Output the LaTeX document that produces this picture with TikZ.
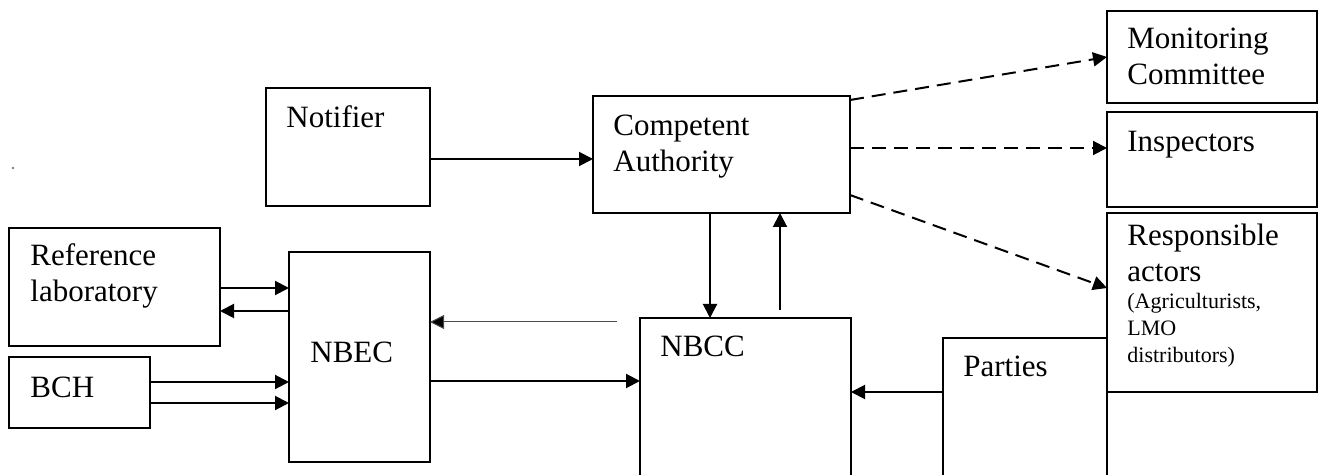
\documentclass[tikz,border=0pt]{standalone}
\usepackage{fontspec}
\setmainfont{Liberation Serif}
\usetikzlibrary{arrows.meta,fit,calc}

\begin{document}
\begin{tikzpicture}[x=0.5pt,y=-0.5pt,
  box/.style={draw, line width=1pt, inner sep=0pt, outer sep=0pt},
  lbl/.style={anchor=base west, inner sep=0pt, align=left,
    font=\fontsize{15.5}{18}\selectfont},
  smalllbl/.style={anchor=base west, inner sep=0pt, align=left,
    font=\fontsize{11}{13.5}\selectfont},
  flow/.style={line width=1pt, -{Triangle[length=7pt,width=7pt]}},
  link/.style={flow, dash pattern=on 7pt off 4pt},
  faint/.style={line width=0.5pt, draw=black!70, -{Triangle[length=7pt,width=7pt,fill=black]}}
]
\useasboundingbox (0,0) rectangle (1321,475);
\clip (0,0) rectangle (1321,475);

% boxes
\node[box, fit={(266,88) (430,206)}]   (notifier) {};
\node[box, fit={(593,96) (850,213)}]   (ca) {};
\node[box, fit={(1107,11) (1317,103)}] (monitor) {};
\node[box, fit={(1107,112) (1317,207)}](insp) {};
\node[box, fit={(1107,213) (1317,392)}](resp) {};
\node[box, fit={(9,228) (220,346)}]    (reflab) {};
\node[box, fit={(9,357) (150,428)}]    (bch) {};
\node[box, fit={(289,252) (430,462)}]  (nbec) {};
\node[box, fit={(640,318) (851,500)}]  (nbcc) {};
\node[box, fit={(943,338) (1107,500)}] (parties) {};

% stray mark on the left
\node[circle, fill=gray, inner sep=0pt, minimum size=1.3pt] (mark) at (13,168) {};

% labels (multi-line labels sit on the baseline of their last line)
\node[lbl] (notifier-t) at (286,128) {Notifier};
\node[lbl] (ca-t) at (613,172) {Competent\\Authority};
\node[lbl] (monitor-t) at (1127,85) {Monitoring\\Committee};
\node[lbl] (insp-t) at (1127,152) {Inspectors};
\node[lbl] (resp-t) at (1127,282) {Responsible\\actors};
\node[smalllbl] (resp-s) at (1127,363) {(Agriculturists,\\LMO\\distributors)};
\node[lbl] (reflab-t) at (30,302) {Reference\\laboratory};
\node[lbl] (bch-t) at (30,397) {BCH};
\node[lbl] (nbec-t) at (310,363) {NBEC};
\node[lbl] (nbcc-t) at (660,357) {NBCC};
\node[lbl] (parties-t) at (963,376) {Parties};

% solid connectors
\draw[flow] (notifier.east |- 0,159) -- (ca.west |- 0,159);
\draw[flow] (reflab.east |- 0,288) -- (nbec.west |- 0,288);
\draw[flow] (nbec.west |- 0,311) -- (reflab.east |- 0,311);
\draw[flow] (bch.east |- 0,382) -- (nbec.west |- 0,382);
\draw[flow] (bch.east |- 0,403) -- (nbec.west |- 0,403);
\draw[flow] (nbec.east |- 0,381) -- (nbcc.west |- 0,381);
\draw[flow] (parties.west |- 0,392) -- (nbcc.east |- 0,392);
\draw[flow] (710,0 |- ca.south) -- (710,0 |- nbcc.north);
\draw[flow] ($(780,0 |- nbcc.north)+(0,-8)$) -- (780,0 |- ca.south);

% thin return line
\coordinate (back) at (617,322);
\draw[faint] (back) -- (nbec.east |- back);

% dashed connectors
\draw[link] (ca.east |- 0,100) -- (monitor.west |- 0,57);
\draw[link] (ca.east |- 0,148) -- (insp.west |- 0,148);
\draw[link] (ca.east |- 0,195) -- (resp.west |- 0,288);
\end{tikzpicture}
\end{document}
